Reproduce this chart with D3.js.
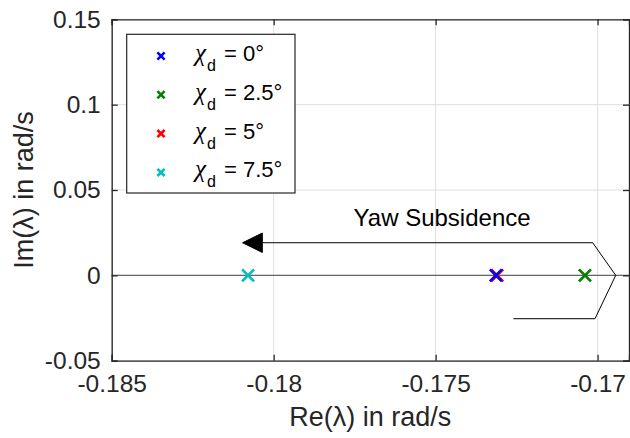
<!DOCTYPE html>
<html><head><meta charset="utf-8">
<script src="https://cdn.jsdelivr.net/npm/d3@7"></script>
<style>body{margin:0;background:#fff}svg{display:block;font-family:"Liberation Sans",Arial,sans-serif}</style>
</head><body><svg id="c" width="630" height="438"></svg>
<script>
// data
const seriesNames = ["0", "2.5", "5", "7.5"];
const seriesColors = ["#0000ff", "#008000", "#ff0000", "#00bfbf"];
const reValues = [-0.17314, -0.17039, -0.17310, -0.18079];
const imValues = [0, 0, 0, 0];
const xTicks = [-0.185, -0.18, -0.175, -0.17];
const yTicks = [-0.05, 0, 0.05, 0.1, 0.15];
const xDomain = [-0.185, -0.16903];
const yDomain = [-0.05, 0.15];
// annotation (data units)
const arrowLine = [[-0.18035, 0.0191], [-0.17015, 0.0191], [-0.16944, 0], [-0.17008, -0.0254], [-0.17260, -0.0254]];
const arrowHead = [[-0.18096, 0.0191], [-0.18035, 0.0248], [-0.18035, 0.0134]];
const annText = "Yaw Subsidence";
const annPos = [-0.17480, 0.0289];

const m = {l: 111.7, r: 629, t: 19.3, b: 360.7};
const svg = d3.select("#c");
const x = d3.scaleLinear().domain(xDomain).range([m.l, m.r]);
const y = d3.scaleLinear().domain(yDomain).range([m.b, m.t]);
const fs = 24.5;

// grid
svg.append("g").selectAll("line").data(xTicks).join("line")
  .attr("x1", d => x(d)).attr("x2", d => x(d)).attr("y1", m.t).attr("y2", m.b)
  .attr("stroke", "#dfdfdf").attr("stroke-width", 1);
svg.append("g").selectAll("line").data(yTicks).join("line")
  .attr("y1", d => y(d)).attr("y2", d => y(d)).attr("x1", m.l).attr("x2", m.r)
  .attr("stroke", "#dfdfdf").attr("stroke-width", 1);

// zero line
svg.append("line").attr("x1", x(xDomain[0])).attr("x2", x(xDomain[1]))
  .attr("y1", y(0)).attr("y2", y(0)).attr("stroke", "#666").attr("stroke-width", 1.2);

// axes
const tk = 6;
const fmt = d => String(+d.toFixed(3));
const gx = svg.append("g").attr("transform", `translate(0,${m.b})`)
  .call(d3.axisBottom(x).tickValues(xTicks).tickSize(-tk).tickPadding(14).tickFormat(fmt));
const gxt = svg.append("g").attr("transform", `translate(0,${m.t})`)
  .call(d3.axisTop(x).tickValues(xTicks).tickSize(-tk).tickFormat(""));
const gy = svg.append("g").attr("transform", `translate(${m.l},0)`)
  .call(d3.axisLeft(y).tickValues(yTicks).tickSize(-tk).tickPadding(11).tickFormat(fmt));
const gyr = svg.append("g").attr("transform", `translate(${m.r},0)`)
  .call(d3.axisRight(y).tickValues(yTicks).tickSize(-tk).tickFormat(""));
[gx, gxt, gy, gyr].forEach(g => {
  g.select(".domain").attr("stroke", "#262626").attr("stroke-width", 1.3);
  g.selectAll(".tick line").attr("stroke", "#262626").attr("stroke-width", 1.3);
  g.selectAll("text").attr("fill", "#262626").attr("font-size", fs).attr("font-family", "Liberation Sans, Arial, sans-serif");
});

// axis labels
svg.append("text").attr("x", (m.l + m.r) / 2).attr("y", 426).attr("text-anchor", "middle")
  .attr("font-size", 27).attr("fill", "#262626").text("Re(λ) in rad/s");
svg.append("text").attr("transform", `translate(33,${(m.t + m.b) / 2}) rotate(-90)`).attr("text-anchor", "middle")
  .attr("font-size", 27).attr("fill", "#262626").text("Im(λ) in rad/s");

// annotation
svg.append("path").attr("d", d3.line().x(d => x(d[0])).y(d => y(d[1]))(arrowLine))
  .attr("fill", "none").attr("stroke", "#000").attr("stroke-width", 1);
svg.append("path").attr("d", d3.line().x(d => x(d[0])).y(d => y(d[1]))(arrowHead) + "Z")
  .attr("fill", "#000").attr("stroke", "#000").attr("stroke-width", 1);
svg.append("text").attr("x", x(annPos[0])).attr("y", y(annPos[1])).attr("text-anchor", "middle")
  .attr("font-size", 24).attr("fill", "#000").text(annText);

// markers
function cross(g, cx, cy, r, color, w) {
  g.append("path").attr("d", `M${cx - r},${cy - r}L${cx + r},${cy + r}M${cx - r},${cy + r}L${cx + r},${cy - r}`)
    .attr("stroke", color).attr("stroke-width", w).attr("fill", "none");
}
const drawOrder = [2, 0, 1, 3];
const mg = svg.append("g");
drawOrder.forEach(i => cross(mg, x(reValues[i]), y(imValues[i]), 6, seriesColors[i], 2.7));

// legend
const L = {x: 126.7, y: 34.3, w: 168.3, h: 158.7};
svg.append("rect").attr("x", L.x).attr("y", L.y).attr("width", L.w).attr("height", L.h)
  .attr("fill", "#fff").attr("stroke", "#262626").attr("stroke-width", 1.2);
seriesNames.forEach((n, i) => {
  const cy = 56 + i * 38.8;
  cross(svg, 161, cy, 3.6, seriesColors[i], 2.6);
  const t = svg.append("text").attr("x", 195).attr("y", cy + 5).attr("font-size", 22).attr("fill", "#000");
  t.append("tspan").attr("font-family", "Liberation Serif, serif").attr("font-style", "italic").attr("font-size", 25).text("χ");
  t.append("tspan").attr("dy", 10).attr("dx", 1).attr("font-size", 16).text("d");
  t.append("tspan").attr("dy", -10).attr("dx", 2).text(" = " + n + "°");
});
</script></body></html>
